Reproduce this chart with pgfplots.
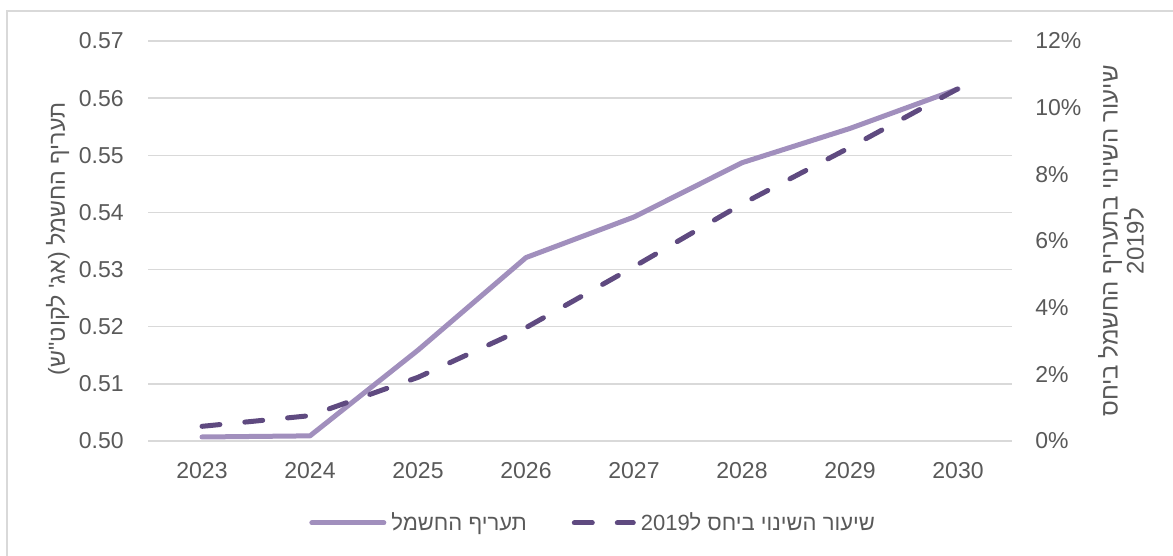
\documentclass[border=0pt]{standalone}
\usepackage{fontspec}
\setmainfont{Liberation Sans}
\newfontfamily\heb[Script=Hebrew]{Liberation Sans}
\usepackage{pgfplots}
\pgfplotsset{compat=1.18}
\TeXXeTstate=1

\definecolor{tariff}{HTML}{A18FBD}
\definecolor{change}{HTML}{5F4A80}
\definecolor{txt}{HTML}{595959}
\definecolor{gridgray}{HTML}{D9D9D9}

\newcommand{\lblfont}{\fontsize{11}{13.5}\selectfont}
\newcommand{\tickfont}{\fontsize{11.5}{13.5}\selectfont}

\tikzset{
  tariffline/.style={tariff, line width=2.5pt, line join=round, line cap=round},
  changeline/.style={change, line width=2.5pt, line cap=round, dash pattern=on 9pt off 12.5pt},
}

\pgfplotsset{
  common/.style={
    at={(74pt,57.5pt)}, anchor=south west,
    scale only axis, width=432pt, height=200pt,
    xmin=2022.5, xmax=2030.5,
    axis line style={draw=none},
    major tick length=0pt,
    tick label style={font=\tickfont, text=txt, inner sep=0pt},
    clip=false,
  },
}

\begin{document}
\begin{tikzpicture}
% chart frame
\draw[gridgray, line width=0.75pt] (3.5pt,-5pt) -- (3.5pt,272.5pt) -- (600pt,272.5pt);

% electricity tariff, left axis
\begin{axis}[common,
  ymin=0.50, ymax=0.57,
  xtick={2023,2024,2025,2026,2027,2028,2029,2030},
  xticklabels={2023,2024,2025,2026,2027,2028,2029,2030},
  ytick={0.50,0.51,0.52,0.53,0.54,0.55,0.56,0.57},
  yticklabels={0.50,0.51,0.52,0.53,0.54,0.55,0.56,0.57},
  xtick pos=lower, ytick pos=left,
  ymajorgrids, grid style={gridgray, line width=0.75pt},
  yticklabel style={anchor=east, xshift=-12pt},
  xticklabel style={anchor=base, yshift=-19pt},
  every axis y label/.style={at={(axis description cs:-0.1042,0.505)}, anchor=center, rotate=90, font=\heb\fontsize{11.6}{14}\selectfont, text=txt},
  ylabel={\beginR תעריף החשמל (אג' לקוט"ש)\endR},
]
\addplot[tariffline] coordinates {
  (2023,0.5007) (2024,0.5009) (2025,0.5159) (2026,0.5321)
  (2027,0.5392) (2028,0.5487) (2029,0.5547) (2030,0.5616)};
\end{axis}

% change relative to 2019, right axis
\begin{axis}[common,
  ymin=0, ymax=12,
  axis x line=none,
  ytick={0,2,4,6,8,10,12},
  yticklabels={0\%,2\%,4\%,6\%,8\%,10\%,12\%},
  ytick pos=right, yticklabel pos=right,
  yticklabel style={anchor=west, xshift=11.5pt},
  every axis y label/.style={at={(axis description cs:1.1262,0.5)}, anchor=center, rotate=90, align=center, font=\heb\fontsize{12}{11.5}\selectfont, text=txt},
  ylabel={\beginR שיעור השינוי בתעריף החשמל ביחס\endR\\\beginR ל\beginL2019\endL\endR},
  legend columns=2,
  legend style={at={(axis description cs:0.1863,-0.205)}, anchor=west,
    draw=none, fill=none, inner sep=0pt, font=\heb\lblfont, text=txt,
    nodes={inner sep=0pt},
    /tikz/every odd column/.append style={column sep=2.5pt},
    /tikz/every even column/.append style={column sep=22.5pt}},
]
\addlegendimage{tariffline,
  legend image code/.code={\draw[tariffline] (0pt,0pt) -- (36pt,0pt);}}
\addlegendentry{\beginR תעריף החשמל\endR}
\addplot[changeline,
  legend image code/.code={\draw[changeline] (0pt,0pt) -- (29.5pt,0pt);}] coordinates {
  (2023,0.44) (2024,0.76) (2025,1.91) (2026,3.40)
  (2027,5.23) (2028,7.11) (2029,8.81) (2030,10.57)};
\addlegendentry{\beginR שיעור השינוי ביחס ל\beginL2019\endL\endR}
\end{axis}

\pgfresetboundingbox
\useasboundingbox (0pt,0pt) rectangle (586.5pt,278pt);
\end{tikzpicture}
\end{document}
